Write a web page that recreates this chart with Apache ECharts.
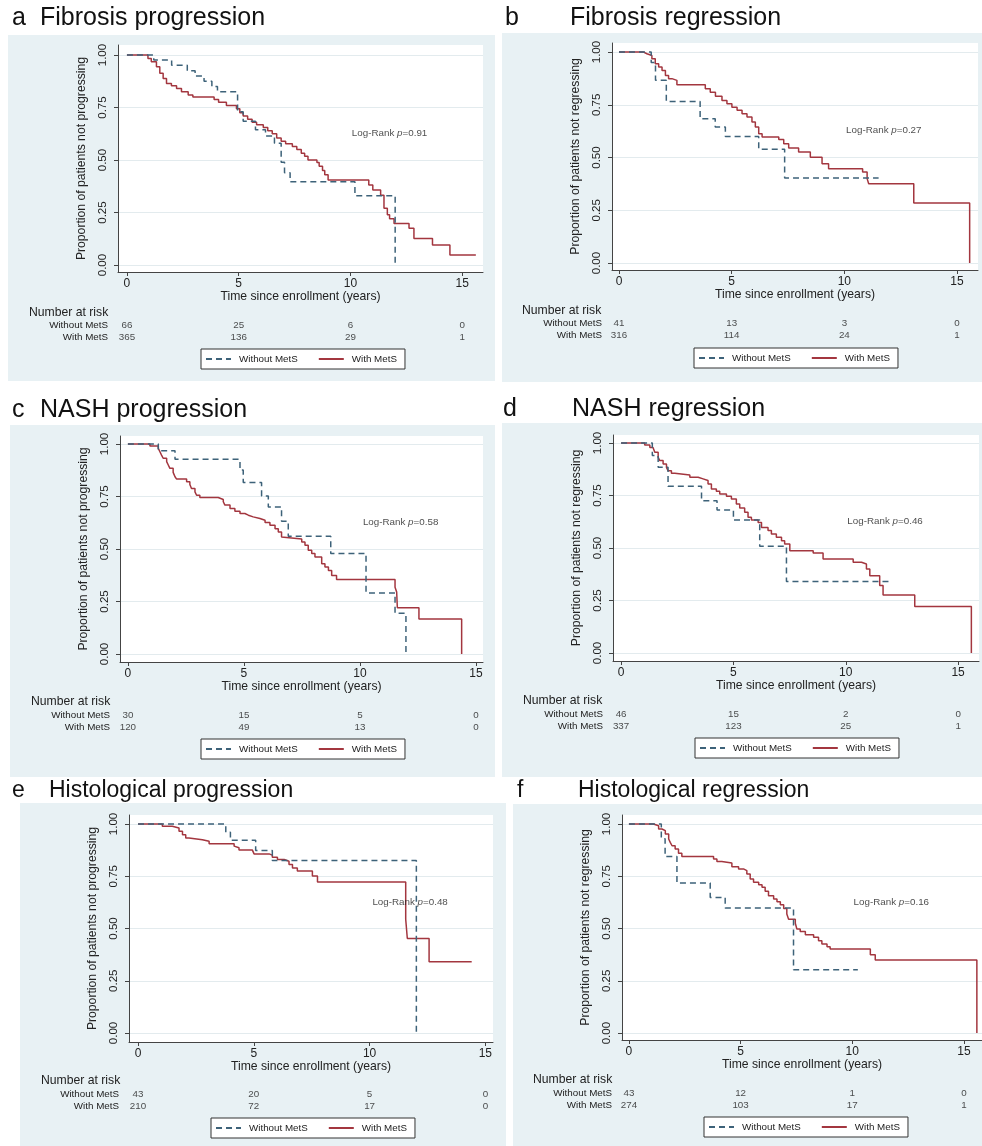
<!DOCTYPE html>
<html><head><meta charset="utf-8">
<script src="https://cdn.jsdelivr.net/npm/echarts@6/dist/echarts.min.js"></script>
<style>html,body{margin:0;padding:0;background:#fff}#c{width:982px;height:1146px}</style>
</head><body><div id="c"></div>
<script>
// ---------------- data ----------------
const panelLetters = ['a','b','c','d','e','f'];
const panelTitles = ['Fibrosis progression','Fibrosis regression','NASH progression','NASH regression','Histological progression','Histological regression'];
const yAxisTitles = ['Proportion of patients not progressing','Proportion of patients not regressing','Proportion of patients not progressing','Proportion of patients not regressing','Proportion of patients not progressing','Proportion of patients not regressing'];
const xAxisTitle = 'Time since enrollment (years)';
const xTicks = [0,5,10,15];
const yTicks = [0,0.25,0.5,0.75,1];
const groupNames = ['Without MetS','With MetS'];
const logRankP = ['0.91','0.27','0.58','0.46','0.48','0.16'];
const logRankPos = [11.75,0.627];
const riskTimes = [0,5,10,15];
const riskWithoutA = [66,25,6,0],  riskWithA = [365,136,29,1];
const riskWithoutB = [41,13,3,0],  riskWithB = [316,114,24,1];
const riskWithoutC = [30,15,5,0],  riskWithC = [120,49,13,0];
const riskWithoutD = [46,15,2,0],  riskWithD = [337,123,25,1];
const riskWithoutE = [43,20,5,0],  riskWithE = [210,72,17,0];
const riskWithoutF = [43,12,1,0],  riskWithF = [274,103,17,1];

const kmWithoutA = [[0,1],[1.2,0.976],[2.0,0.951],[2.7,0.925],[3.05,0.9],[3.45,0.875],[3.8,0.85],[4.05,0.825],[4.95,0.73],[5.2,0.685],[5.75,0.645],[6.2,0.615],[6.6,0.58],[6.9,0.49],[7.05,0.44],[7.3,0.397],[10.2,0.33],[12.0,0]];
const kmWithA = [[0,1],[0.94,0.984],[1.09,0.968],[1.32,0.944],[1.47,0.913],[1.62,0.889],[1.77,0.865],[1.99,0.854],[2.22,0.841],[2.44,0.825],[2.74,0.81],[2.95,0.80],[3.9,0.788],[4.1,0.775],[4.45,0.76],[4.9,0.745],[5.05,0.725],[5.2,0.71],[5.4,0.695],[5.6,0.68],[5.8,0.668],[6.1,0.655],[6.3,0.64],[6.5,0.625],[6.7,0.605],[6.9,0.59],[7.1,0.578],[7.4,0.565],[7.6,0.55],[7.8,0.532],[7.95,0.518],[8.1,0.50],[8.5,0.488],[8.6,0.47],[8.75,0.45],[8.85,0.43],[9.0,0.405],[10.82,0.381],[11.0,0.357],[11.35,0.333],[11.5,0.27],[11.65,0.24],[11.75,0.22],[11.95,0.198],[12.62,0.175],[12.84,0.127],[13.67,0.095],[14.45,0.048],[15.61,0.048]];
const kmWithoutB = [[0,1],[1.43,0.95],[1.62,0.866],[2.1,0.766],[3.6,0.684],[4.27,0.645],[4.72,0.60],[6.2,0.539],[7.35,0.403],[11.52,0.403]];
const kmWithB = [[0,1],[1.09,0.992],[1.24,0.984],[1.46,0.968],[1.61,0.945],[1.76,0.929],[1.91,0.913],[2.06,0.889],[2.2,0.874],[2.35,0.866],[2.57,0.845],[3.83,0.826],[4.05,0.81],[4.28,0.791],[4.57,0.771],[4.79,0.755],[5.01,0.739],[5.24,0.724],[5.46,0.708],[5.68,0.692],[5.9,0.668],[6.05,0.645],[6.2,0.613],[6.35,0.597],[7.09,0.586],[7.31,0.566],[7.53,0.545],[7.97,0.526],[8.49,0.502],[9.01,0.471],[9.3,0.447],[10.81,0.431],[11.01,0.40],[11.08,0.376],[13.08,0.284],[15.56,0]];
const kmWithoutC = [[0,1],[1.31,0.968],[2.03,0.927],[4.83,0.876],[4.97,0.817],[5.76,0.752],[6.05,0.70],[6.62,0.632],[6.91,0.561],[8.74,0.479],[10.26,0.291],[11.51,0.194],[11.98,0]];
const kmWithC = [[0,1],[0.95,0.99],[1.31,0.979],[1.38,0.963],[1.45,0.947],[1.52,0.932],[1.67,0.916],[1.74,0.90],[1.81,0.884],[1.95,0.865],[2.03,0.844],[2.1,0.833],[2.53,0.82],[2.67,0.807],[2.74,0.788],[2.89,0.772],[2.96,0.756],[3.1,0.745],[3.89,0.736],[4.11,0.725],[4.18,0.709],[4.4,0.693],[4.61,0.68],[4.83,0.669],[5.04,0.661],[5.19,0.653],[5.4,0.645],[5.69,0.637],[5.91,0.626],[6.12,0.613],[6.34,0.597],[6.48,0.581],[6.62,0.557],[6.7,0.548],[7.49,0.533],[7.63,0.518],[7.77,0.494],[7.92,0.478],[8.06,0.462],[8.35,0.43],[8.49,0.414],[8.64,0.398],[8.78,0.374],[8.99,0.355],[11.51,0.318],[11.58,0.295],[11.61,0.22],[12.54,0.167],[14.38,0]];
const kmWithoutD = [[0,1],[1.39,0.94],[1.65,0.884],[2.09,0.794],[3.58,0.725],[4.27,0.681],[5.0,0.633],[6.17,0.508],[7.36,0.34],[12.03,0.34]];
const kmWithD = [[0,1],[1.05,0.99],[1.28,0.979],[1.42,0.971],[1.5,0.956],[1.65,0.932],[1.72,0.916],[1.87,0.90],[2.02,0.884],[2.09,0.868],[2.24,0.856],[2.39,0.848],[3.06,0.837],[3.43,0.829],[3.65,0.821],[3.87,0.805],[4.02,0.781],[4.24,0.77],[4.39,0.757],[4.69,0.746],[4.91,0.733],[5.13,0.71],[5.28,0.69],[5.5,0.67],[5.65,0.646],[5.8,0.633],[6.1,0.622],[6.25,0.598],[6.54,0.583],[6.69,0.567],[6.91,0.551],[7.14,0.535],[7.28,0.519],[7.51,0.487],[8.55,0.476],[8.99,0.448],[10.33,0.432],[10.7,0.424],[10.92,0.40],[11.07,0.368],[11.51,0.321],[11.66,0.276],[13.07,0.222],[15.59,0]];
const kmWithoutE = [[0,1],[3.79,0.96],[3.99,0.922],[5.08,0.873],[5.8,0.825],[12.02,0]];
const kmWithE = [[0,1],[1.05,0.989],[1.48,0.981],[1.77,0.965],[1.92,0.949],[2.06,0.933],[2.2,0.925],[2.78,0.917],[3.07,0.905],[4.15,0.894],[4.22,0.886],[4.36,0.875],[4.94,0.867],[5.01,0.857],[5.66,0.851],[5.8,0.841],[6.02,0.83],[6.31,0.822],[6.52,0.806],[6.67,0.79],[6.88,0.775],[7.53,0.751],[7.75,0.722],[11.56,0.544],[11.63,0.452],[12.57,0.341],[14.41,0.341]];
const kmWithoutF = [[0,1],[1.45,0.93],[1.62,0.844],[2.15,0.718],[3.64,0.649],[4.31,0.598],[7.37,0.303],[10.25,0.303]];
const kmWithF = [[0,1],[1.1,0.992],[1.33,0.976],[1.48,0.968],[1.63,0.952],[1.78,0.928],[1.85,0.912],[1.93,0.896],[2.07,0.88],[2.22,0.86],[2.37,0.844],[3.79,0.833],[3.94,0.821],[4.16,0.813],[4.61,0.796],[4.91,0.785],[5.13,0.777],[5.28,0.761],[5.43,0.737],[5.58,0.721],[5.81,0.71],[5.96,0.697],[6.1,0.678],[6.25,0.657],[6.48,0.641],[6.63,0.628],[6.78,0.614],[6.93,0.596],[7.07,0.569],[7.15,0.545],[7.45,0.525],[7.52,0.498],[7.67,0.486],[7.9,0.47],[8.27,0.458],[8.49,0.442],[8.64,0.426],[8.87,0.413],[9.01,0.402],[10.81,0.375],[11.03,0.349],[15.58,0]];

const kmWithout = [kmWithoutA,kmWithoutB,kmWithoutC,kmWithoutD,kmWithoutE,kmWithoutF];
const kmWith = [kmWithA,kmWithB,kmWithC,kmWithD,kmWithE,kmWithF];
const riskWithout = [riskWithoutA,riskWithoutB,riskWithoutC,riskWithoutD,riskWithoutE,riskWithoutF];
const riskWith = [riskWithA,riskWithB,riskWithC,riskWithD,riskWithE,riskWithF];

// ---------------- layout ----------------
const layout = [
  {bg:[8,35,487,346],  letter:[12,18],  title:[40,18],  fs:25, grid:{left:118,top:45,width:365,height:227}, x:[-0.40,15.93], y:[-0.033,1.048], riskTop:319,  nar:[29,313],  legend:[201,349]},
  {bg:[502,33,480,349],letter:[505,18], title:[570,18], fs:25, grid:{left:612,top:43,width:366,height:227}, x:[-0.31,15.93], y:[-0.033,1.043], riskTop:317,  nar:[522,311], legend:[694,348]},
  {bg:[10,425,485,352],letter:[12,410], title:[40,410], fs:25, grid:{left:120,top:436,width:363,height:226},x:[-0.34,15.30], y:[-0.038,1.038], riskTop:709,  nar:[31,702],  legend:[201,739]},
  {bg:[502,423,480,354],letter:[503,409],title:[572,409],fs:25, grid:{left:613,top:435,width:366,height:226},x:[-0.36,15.93], y:[-0.038,1.038], riskTop:708,  nar:[523,701], legend:[695,738]},
  {bg:[20,803,486,343],letter:[12,791], title:[49,791], fs:23, grid:{left:129,top:815,width:364,height:227},x:[-0.39,15.33], y:[-0.043,1.043], riskTop:1088, nar:[41,1081], legend:[211,1118]},
  {bg:[513,804,469,342],letter:[517,791],title:[578,791],fs:23, grid:{left:622,top:815,width:360,height:225},x:[-0.31,15.81], y:[-0.033,1.043], riskTop:1087, nar:[533,1080], legend:[704,1117]}
];

const FONT = "'Liberation Sans', Arial, Helvetica, sans-serif";
const BG = '#e8f1f4', AX = '#444', TXT = '#222', GRIDC = '#e3ebee';
const NAVY = '#3d6279', MAROON = '#a3363f';

const grids = [], xAxes = [], yAxes = [], series = [], legends = [], graphics = [];

layout.forEach((L, i) => {
  graphics.push({type:'rect', z:-10, silent:true, shape:{x:L.bg[0], y:L.bg[1], width:L.bg[2], height:L.bg[3]}, style:{fill:BG}});
  graphics.push({type:'text', x:L.letter[0], y:L.letter[1], silent:true, style:{text:panelLetters[i], fontSize:L.fs, fontFamily:FONT, fill:'#111', verticalAlign:'middle'}});
  graphics.push({type:'text', x:L.title[0], y:L.title[1], silent:true, style:{text:panelTitles[i], fontSize:L.fs, fontFamily:FONT, fill:'#111', verticalAlign:'middle'}});
  graphics.push({type:'text', x:L.nar[0], y:L.nar[1], silent:true, style:{text:'Number at risk', fontSize:12.2, fontFamily:FONT, fill:TXT, verticalAlign:'middle'}});

  const gMain = 2*i, gRisk = 2*i+1;
  grids.push(Object.assign({show:true, backgroundColor:'#fff', borderWidth:0, outerBoundsMode:'none'}, L.grid));
  grids.push({left:L.grid.left, width:L.grid.width, top:L.riskTop, height:24, show:false, outerBoundsMode:'none'});

  xAxes.push({type:'value', gridIndex:gMain, min:L.x[0], max:L.x[1],
    axisLine:{show:true, onZero:false, lineStyle:{color:AX, width:1}},
    axisTick:{show:true, customValues:xTicks, length:4, lineStyle:{color:AX}},
    axisLabel:{customValues:xTicks, margin:6, fontSize:12, color:TXT, fontFamily:FONT},
    splitLine:{show:false},
    name:xAxisTitle, nameLocation:'middle', nameGap:19,
    nameTextStyle:{fontSize:12.2, color:TXT, fontFamily:FONT}});
  yAxes.push({type:'value', gridIndex:gMain, min:L.y[0], max:L.y[1],
    axisLine:{show:true, onZero:false, lineStyle:{color:AX, width:1}},
    axisTick:{show:true, customValues:yTicks, length:4, lineStyle:{color:AX}},
    axisLabel:{customValues:yTicks, rotate:90, margin:9, fontSize:11.5, color:TXT, fontFamily:FONT, formatter:v=>v.toFixed(2)},
    splitLine:{show:true, lineStyle:{color:GRIDC, width:1}},
    name:yAxisTitles[i], nameLocation:'middle', nameGap:30,
    nameTextStyle:{fontSize:12.2, color:TXT, fontFamily:FONT}});

  xAxes.push({type:'value', gridIndex:gRisk, min:L.x[0], max:L.x[1], show:false});
  yAxes.push({type:'category', gridIndex:gRisk, data:groupNames, inverse:true,
    axisLine:{show:false}, axisTick:{show:false}, splitLine:{show:false},
    axisLabel:{interval:0, hideOverlap:false, margin:10, fontSize:9.8, color:TXT, fontFamily:FONT}});

  series.push({type:'line', name:groupNames[0], xAxisIndex:gMain, yAxisIndex:gMain, step:'end', symbol:'none',
    data:kmWithout[i], lineStyle:{color:NAVY, width:1.5, type:[6,4]}, itemStyle:{color:NAVY}, silent:true, z:3});
  series.push({type:'line', name:groupNames[1], xAxisIndex:gMain, yAxisIndex:gMain, step:'end', symbol:'none',
    data:kmWith[i], lineStyle:{color:MAROON, width:1.5}, itemStyle:{color:MAROON}, silent:true, z:2});
  series.push({type:'scatter', name:'logrank'+i, xAxisIndex:gMain, yAxisIndex:gMain, symbolSize:1,
    itemStyle:{color:'rgba(0,0,0,0)'}, silent:true, data:[logRankPos],
    label:{show:true, position:'inside', fontSize:9.8, color:TXT, fontFamily:FONT,
      formatter:'Log-Rank {i|p}=' + logRankP[i],
      rich:{i:{fontStyle:'italic', fontSize:9.8, color:TXT, fontFamily:FONT}}}});
  const riskData = riskTimes.map((t,k)=>[t,0,riskWithout[i][k]]).concat(riskTimes.map((t,k)=>[t,1,riskWith[i][k]]));
  series.push({type:'scatter', name:'risk'+i, xAxisIndex:gRisk, yAxisIndex:gRisk, symbolSize:1,
    itemStyle:{color:'rgba(0,0,0,0)'}, silent:true, data:riskData,
    label:{show:true, position:'inside', fontSize:9.8, color:TXT, fontFamily:FONT, formatter:p=>String(p.value[2])}});

  legends.push({left:L.legend[0], top:L.legend[1], orient:'horizontal', data:groupNames, selectedMode:false,
    itemWidth:25, itemHeight:12, itemGap:20, padding:[5,8,5,4],
    itemStyle:{color:'rgba(0,0,0,0)', borderColor:'rgba(0,0,0,0)', borderWidth:0},
    borderColor:'#333', borderWidth:1, backgroundColor:'#fff', borderRadius:0,
    textStyle:{fontSize:9.8, color:TXT, fontFamily:FONT, padding:[0,0,0,3]}});
});

const chart = echarts.init(document.getElementById('c'), null, {renderer:'canvas'});
chart.setOption({
  animation:false,
  backgroundColor:'#fff',
  textStyle:{fontFamily:FONT},
  grid:grids, xAxis:xAxes, yAxis:yAxes, series:series, legend:legends, graphic:graphics
});
</script></body></html>
